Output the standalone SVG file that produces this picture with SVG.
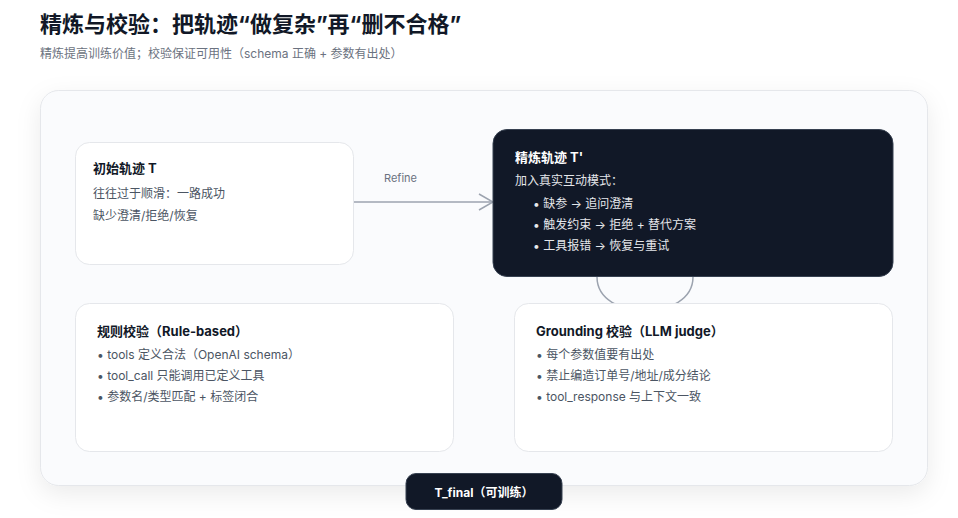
<svg xmlns="http://www.w3.org/2000/svg" width="958" height="518" viewBox="0 0 958 518">
<defs>
<filter id="shadow" x="-10%" y="-10%" width="120%" height="130%">
<feDropShadow dx="0" dy="8" stdDeviation="12" flood-color="#0f172a" flood-opacity="0.08"/>
</filter>
<marker id="chev" viewBox="0 0 16 18" refX="15" refY="9" markerWidth="16" markerHeight="18" markerUnits="userSpaceOnUse" orient="auto">
<path d="M1,1 L15,9 L1,17" fill="none" stroke="#9ca3af" stroke-width="1.5"/>
</marker>
<style>
text{font-family:Inter,"Noto Sans CJK SC","Noto Sans",sans-serif;}
.title{font-size:22px;font-weight:700;fill:#111827;}
.sub{font-size:12px;fill:#6b7280;}
.card{fill:#ffffff;stroke:#e5e7eb;stroke-width:1;}
.dark{fill:#111827;stroke:#374151;stroke-width:1;}
.h{font-size:13px;font-weight:700;fill:#111827;}
.hw{font-size:13px;font-weight:700;fill:#ffffff;}
.t{font-size:12px;fill:#4b5563;}
.tw{font-size:12px;fill:#e5e7eb;}
.lbl{font-size:11px;fill:#6b7280;}
.conn{fill:none;stroke:#9ca3af;stroke-width:1.5;}
</style>
</defs>
<rect width="958" height="518" fill="#ffffff"/>
<text class="title" x="40" y="32">精炼与校验：把轨迹“做复杂”再“删不合格”</text>
<text class="sub" x="40" y="58">精炼提高训练价值；校验保证可用性（schema 正确 + 参数有出处）</text>
<rect x="40.5" y="90.5" width="887" height="395" rx="18" fill="#fafbfd" stroke="#e5e7eb" filter="url(#shadow)"/>
<g id="connectors">
<path class="conn" d="M353,202 L493,202" marker-end="url(#chev)"/>
<text class="lbl" x="384" y="182">Refine</text>
<path class="conn" d="M597,277 C597,322 693,322 693,277"/>
</g>
<g id="node-initial">
<rect class="card" x="75.5" y="142.5" width="278" height="122" rx="14"/>
<text class="h" x="93" y="173">初始轨迹 T</text>
<text class="t" x="93" y="198">往往过于顺滑：一路成功</text>
<text class="t" x="93" y="220">缺少澄清/拒绝/恢复</text>
</g>
<g id="node-refined">
<rect class="dark" x="493" y="129.5" width="400" height="147" rx="14"/>
<text class="hw" x="515" y="162">精炼轨迹 T'</text>
<text class="tw" x="515" y="185">加入真实互动模式：</text>
<text class="tw" x="533" y="208">• 缺参 → 追问澄清</text>
<text class="tw" x="533" y="229">• 触发约束 → 拒绝 + 替代方案</text>
<text class="tw" x="533" y="250">• 工具报错 → 恢复与重试</text>
</g>
<g id="node-rule">
<rect class="card" x="75.5" y="303.5" width="378" height="148" rx="14"/>
<text class="h" x="97" y="336">规则校验（Rule-based）</text>
<text class="t" x="97" y="359">• tools 定义合法（OpenAI schema）</text>
<text class="t" x="97" y="380">• tool_call 只能调用已定义工具</text>
<text class="t" x="97" y="401">• 参数名/类型匹配 + 标签闭合</text>
</g>
<g id="node-grounding">
<rect class="card" x="514.5" y="303.5" width="378" height="148" rx="14"/>
<text class="h" x="536" y="336">Grounding 校验（LLM judge）</text>
<text class="t" x="536" y="359">• 每个参数值要有出处</text>
<text class="t" x="536" y="380">• 禁止编造订单号/地址/成分结论</text>
<text class="t" x="536" y="401">• tool_response 与上下文一致</text>
</g>
<g id="node-final">
<rect class="dark" x="406" y="473.5" width="156" height="36" rx="10"/>
<text class="hw" x="484" y="497" text-anchor="middle" style="font-size:12px">T_final（可训练）</text>
</g>
</svg>
